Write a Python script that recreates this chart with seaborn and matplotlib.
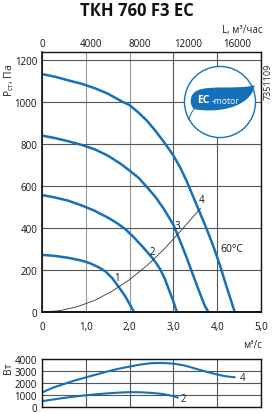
import numpy as np
import pandas as pd
import matplotlib
matplotlib.use("Agg")
import matplotlib.pyplot as plt
import seaborn as sns
from matplotlib.path import Path
from matplotlib.patches import PathPatch, Circle

# ---------------- data ----------------
title = "ТКН 760 F3 EC"
x_ticks = [0, 1, 2, 3, 4, 5]
x_tick_labels = ["0", "1,0", "2,0", "3,0", "4,0", "5,0"]
top_ticks = [0, 4000, 8000, 12000, 16000]
p_ticks = [0, 200, 400, 600, 800, 1000, 1200]
w_ticks = [0, 1000, 2000, 3000, 4000]

# pressure curves (m3/s, Pa)
c1_x = [0, 0.3, 0.6, 0.9, 1.1, 1.3, 1.45, 1.6, 1.75, 1.9, 2.0, 2.1]
c1_y = [272, 267, 258, 245, 232, 212, 193, 162, 120, 75, 38, 0]
c2_x = [0, 0.3, 0.6, 0.9, 1.2, 1.5, 1.7, 1.9, 2.1, 2.3, 2.5, 2.6, 2.7, 2.8, 2.9, 3.0, 3.08]
c2_y = [557, 545, 530, 508, 482, 450, 425, 395, 355, 310, 262, 235, 203, 160, 105, 50, 0]
c3_x = [0, 0.3, 0.6, 0.9, 1.2, 1.5, 1.8, 2.0, 2.2, 2.4, 2.6, 2.8, 3.0, 3.15, 3.3, 3.45, 3.6, 3.72, 3.8]
c3_y = [840, 828, 813, 796, 775, 745, 705, 673, 640, 594, 545, 485, 415, 340, 260, 175, 92, 28, 0]
c4_x = [0, 0.3, 0.6, 0.9, 1.2, 1.5, 1.8, 2.0, 2.2, 2.4, 2.6, 2.8, 3.0, 3.15, 3.3,
        3.45, 3.6, 3.75, 3.9, 4.05, 4.2, 4.3, 4.4]
c4_y = [1133, 1120, 1103, 1087, 1066, 1040, 1005, 985, 950, 910, 860, 805, 745, 690, 625,
        550, 475, 400, 320, 230, 130, 65, 0]
# system curve
sys_x = [0, 0.4, 0.8, 1.2, 1.6, 2.0, 2.4, 2.8, 3.2, 3.62]
sys_y = [0, 6, 25, 55, 99, 154, 222, 302, 394, 494]
curve_labels = ["1", "2", "3", "4"]
label_x = [1.71, 2.52, 3.09, 3.64]
label_y = [162, 286, 411, 538]

# power curves (m3/s, W)
w4_x = [0, 0.25, 0.5, 0.75, 1.0, 1.25, 1.5, 1.75, 2.0, 2.25, 2.5, 2.75, 3.0, 3.25,
        3.5, 3.75, 4.0, 4.2, 4.4]
w4_y = [1200, 1600, 1900, 2200, 2450, 2700, 2950, 3170, 3350, 3520, 3630, 3650, 3590,
        3440, 3180, 2920, 2690, 2540, 2460]
w2_x = [0, 0.25, 0.5, 0.75, 1.0, 1.25, 1.5, 1.75, 2.0, 2.25, 2.5, 2.75, 3.0, 3.1]
w2_y = [480, 620, 750, 870, 970, 1060, 1130, 1190, 1230, 1220, 1170, 1080, 900, 780]

BLUE = "#1470b8"
GRID = "#555555"

sns.set_theme(style="white")
plt.rcParams["font.family"] = ["Open Sans", "DejaVu Sans"]

W, H = 273, 414
fig = plt.figure(figsize=(W / 100, H / 100), dpi=100)

# ---------------- main axes ----------------
ax = fig.add_axes([42 / W, (H - 313) / H, 219 / W, 260 / H])
for cx, cy in [(c1_x, c1_y), (c2_x, c2_y), (c3_x, c3_y), (c4_x, c4_y)]:
    sns.lineplot(x=cx, y=cy, ax=ax, color=BLUE, lw=1.8, sort=False, estimator=None)
sns.lineplot(x=sys_x, y=sys_y, ax=ax, color="#333333", lw=0.6, sort=False, estimator=None)
for t, lx, ly in zip(curve_labels, label_x, label_y):
    ax.text(lx, ly, t, fontsize=7, ha="center", va="center", color="#111111")
ax.text(4.08, 300, "60°C", fontsize=7.5, ha="left", va="center", color="#111111")

ax.set_xlim(0, 5)
ax.set_ylim(0, 1238)
ax.set_xticks(x_ticks)
ax.set_xticklabels(x_tick_labels)
ax.set_yticks(p_ticks)
ax.set_yticklabels([str(v) for v in p_ticks])
ax.tick_params(axis="both", length=0, labelsize=7, colors="#111111")
ax.tick_params(axis="x", pad=6.5)
ax.tick_params(axis="y", pad=3.5)
ax.grid(True, color=GRID, lw=0.8)
for i, gl in enumerate(ax.xaxis.get_gridlines()):
    if x_ticks[i] in (1, 2):
        gl.set_color("#999999")
for s in ax.spines.values():
    s.set_color("#111111")
    s.set_linewidth(1.0)
ax.spines["bottom"].set_linewidth(1.4)
ax.spines["left"].set_linewidth(1.2)

sec = ax.secondary_xaxis("top", functions=(lambda v: v * 3600, lambda v: v / 3600))
sec.set_xticks(top_ticks)
sec.set_xticklabels([str(v) for v in top_ticks])
sec.tick_params(length=0, labelsize=7, pad=2, colors="#111111")
sec.spines["top"].set_visible(False)

# ---------------- power axes ----------------
ax2 = fig.add_axes([42 / W, 6 / H, 219 / W, 48.3 / H])
sns.lineplot(x=w4_x, y=w4_y, ax=ax2, color=BLUE, lw=1.5, sort=False, estimator=None)
sns.lineplot(x=w2_x, y=w2_y, ax=ax2, color=BLUE, lw=1.5, sort=False, estimator=None)
ax2.text(4.57, 2450, "4", fontsize=7, ha="center", va="center")
ax2.text(3.22, 700, "2", fontsize=7, ha="center", va="center")
ax2.set_xlim(0, 5)
ax2.set_ylim(0, 4000)
ax2.set_xticks(x_ticks)
ax2.set_xticklabels([])
ax2.set_yticks(w_ticks)
ax2.set_yticklabels([str(v) for v in w_ticks])
ax2.tick_params(axis="both", length=0, labelsize=7, colors="#111111", pad=3.5)
ax2.grid(True, color=GRID, lw=0.8)
for s in ax2.spines.values():
    s.set_color("#111111")
    s.set_linewidth(1.0)

# ---------------- texts ----------------
fig.text(0.5, 1 - 11 / H, title, ha="center", va="center", fontsize=12,
         fontweight="bold", color="#111111")
fig.text(262 / W, 1 - 31 / H, "L, м³/час", ha="right", va="center", fontsize=7)
fig.text(262 / W, 1 - 346 / H, "м³/с", ha="right", va="center", fontsize=7)
fig.text(9 / W, 1 - 80 / H, "Р$_{\\mathregular{ст}}$, Па", rotation=90,
         ha="center", va="center", fontsize=7.5)
fig.text(9 / W, 1 - 368 / H, "Вт", rotation=90, ha="center", va="center", fontsize=7.5)
fig.text(268 / W, 1 - 82 / H, "7351109", rotation=90, ha="center", va="center", fontsize=6.5)

# ---------------- EC-motor logo ----------------
r = 37
lax = fig.add_axes([(220 - r) / W, (H - 103 - r) / H, 2 * r / W, 2 * r / H])
lax.set_xlim(-1.02, 1.02)
lax.set_ylim(-1.02, 1.02)
lax.axis("off")
lax.add_patch(Circle((0, 0), 0.98, facecolor="white", edgecolor=BLUE, lw=1.0))
verts = [(-0.72, -0.2),
         (-0.86, -0.04), (-0.84, 0.22), (-0.62, 0.32),
         (-0.3, 0.47), (0.5, 0.34), (0.95, 0.46),
         (0.92, 0.05), (0.3, -0.35), (-0.72, -0.2),
         (-0.72, -0.2)]
codes = [Path.MOVETO,
         Path.CURVE4, Path.CURVE4, Path.CURVE4,
         Path.CURVE4, Path.CURVE4, Path.CURVE4,
         Path.CURVE4, Path.CURVE4, Path.CURVE4,
         Path.CLOSEPOLY]
lax.add_patch(PathPatch(Path(verts, codes), facecolor=BLUE, edgecolor="none"))
tail = Path([(-0.72, -0.2), (-0.8, -0.3), (-0.84, -0.4), (-0.86, -0.5)],
            [Path.MOVETO, Path.CURVE4, Path.CURVE4, Path.CURVE4])
lax.add_patch(PathPatch(tail, facecolor="none", edgecolor=BLUE, lw=0.7))
lax.text(-0.62, 0.06, "EC", color="white", fontsize=7.5, fontweight="bold",
         ha="left", va="center")
lax.text(-0.22, 0.05, "-motor", color="white", fontsize=6.2, ha="left", va="center")

fig.savefig("out.png", dpi=100)
